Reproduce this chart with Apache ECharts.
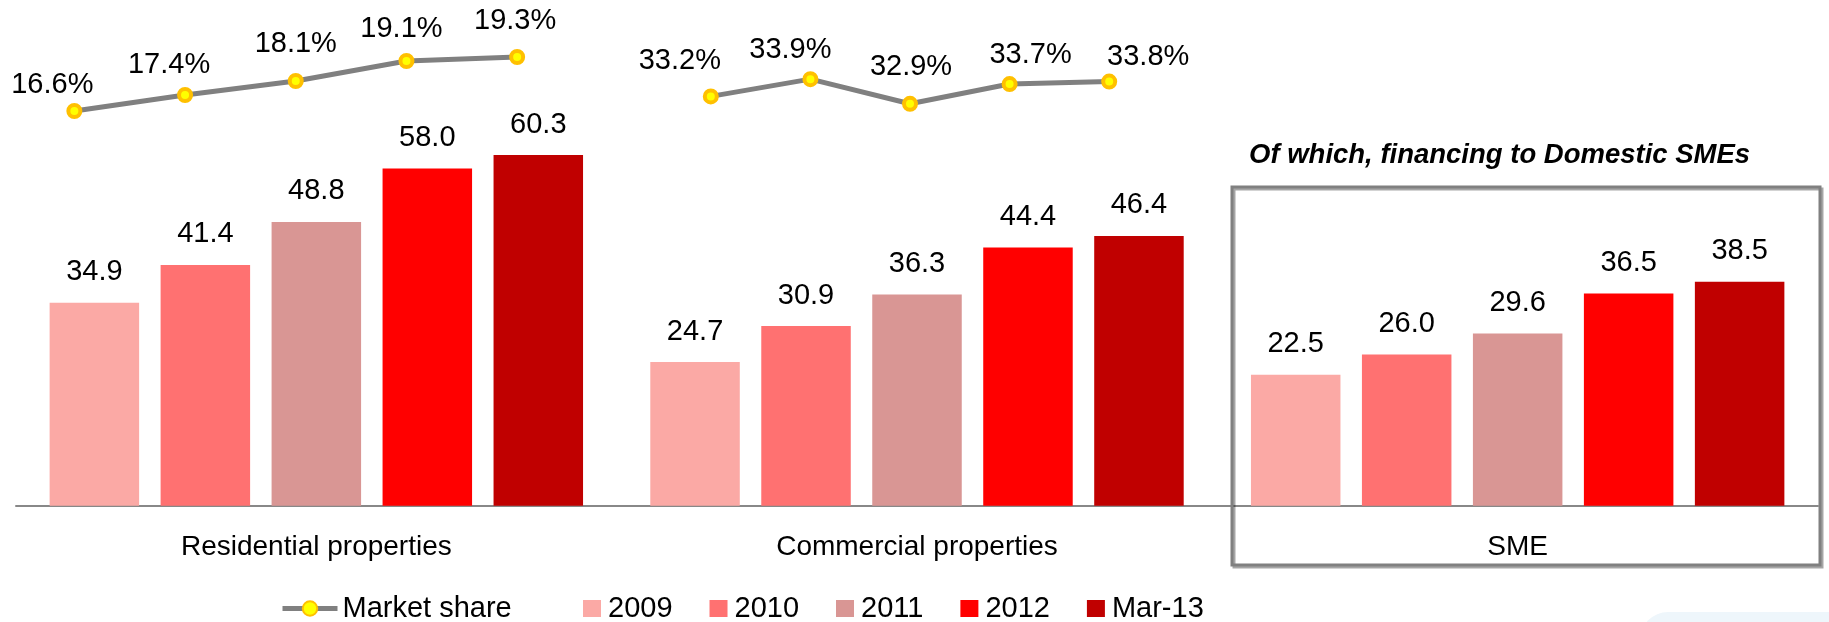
<!DOCTYPE html>
<html>
<head>
<meta charset="utf-8">
<script src="https://cdn.jsdelivr.net/npm/echarts@6/dist/echarts.min.js"></script>
<style>
  html, body { margin: 0; padding: 0; background: #fff; }
  #chart { width: 1829px; height: 622px; }
</style>
</head>
<body>
<div id="chart"></div>
<script>
  // data
  const categories = ['Residential properties', 'Commercial properties', 'SME'];
  const years = ['2009', '2010', '2011', '2012', 'Mar-13'];
  const val2009 = [34.9, 24.7, 22.5];
  const val2010 = [41.4, 30.9, 26.0];
  const val2011 = [48.8, 36.3, 29.6];
  const val2012 = [58.0, 44.4, 36.5];
  const valMar13 = [60.3, 46.4, 38.5];
  const shareResidential = [16.6, 17.4, 18.1, 19.1, 19.3];
  const shareCommercial = [33.2, 33.9, 32.9, 33.7, 33.8];
  const boxTitle = 'Of which, financing to Domestic SMEs';

  const FONT = 'Liberation Sans, Arial, sans-serif';
  const barColors = ['#FBA9A5', '#FF7171', '#D99694', '#FF0000', '#C00000'];
  const barValues = [val2009, val2010, val2011, val2012, valMar13];

  // hand placed % labels, like in the original slide
  const resLabelShift = [[-22, -26], [-16, -30], [0, -37], [-5, -32], [-2, -36]];
  const comLabelShift = [[-31, -35], [-20, -29], [1, -37], [21, -29], [39, -25]];

  function shareData(values, shifts) {
    return values.map(function (v, i) {
      return { value: v, label: { offset: shifts[i] } };
    });
  }

  const chart = echarts.init(document.getElementById('chart'));

  const barSeries = years.map(function (y, i) {
    return {
      name: y,
      type: 'bar',
      xAxisIndex: 0,
      yAxisIndex: 0,
      data: barValues[i],
      barWidth: 89.5,
      barGap: '24%',
      itemStyle: { color: barColors[i] },
      label: {
        show: true,
        position: 'top',
        distance: 16,
        fontFamily: FONT,
        fontSize: 29,
        color: '#000',
        formatter: function (p) { return p.value.toFixed(1); }
      },
      emphasis: { disabled: true }
    };
  });

  function lineSeries(idx, values, shifts) {
    return {
      name: 'Market share',
      type: 'line',
      xAxisIndex: idx,
      yAxisIndex: idx,
      data: shareData(values, shifts),
      symbol: 'circle',
      symbolSize: 12,
      lineStyle: { color: '#808080', width: 5 },
      itemStyle: { color: '#FFFF00', borderColor: '#FFC000', borderWidth: 4 },
      label: {
        show: true,
        position: 'inside',
        fontFamily: FONT,
        fontSize: 29,
        color: '#000',
        formatter: function (p) { return p.value.toFixed(1) + '%'; }
      },
      emphasis: { disabled: true },
      z: 5
    };
  }

  const option = {
    animation: false,
    backgroundColor: '#fff',
    grid: [
      { left: 16, right: 11, top: 40.5, bottom: 116.3, outerBoundsMode: 'none' },
      { left: 19, width: 553.5, top: 43, height: 120, outerBoundsMode: 'none' },
      { left: 661, width: 498, top: 52, height: 74, outerBoundsMode: 'none' }
    ],
    xAxis: [
      {
        type: 'category',
        gridIndex: 0,
        data: categories,
        axisLine: { lineStyle: { color: '#888888', width: 2 } },
        axisTick: { show: false },
        axisLabel: { fontFamily: FONT, fontSize: 28, color: '#000', margin: 28, interval: 0 }
      },
      { type: 'category', gridIndex: 1, data: years, show: false },
      { type: 'category', gridIndex: 2, data: years, show: false }
    ],
    yAxis: [
      { type: 'value', gridIndex: 0, min: 0, max: 80, show: false },
      { type: 'value', gridIndex: 1, min: 14, max: 20, show: false },
      { type: 'value', gridIndex: 2, min: 32, max: 35, show: false }
    ],
    legend: [
      {
        data: ['Market share'],
        left: 280,
        top: 594,
        padding: 0,
        itemWidth: 55,
        itemHeight: 18,
        lineStyle: { width: 5, color: '#808080' },
        textStyle: { fontFamily: FONT, fontSize: 29, color: '#000' },
        selectedMode: false
      },
      {
        data: years,
        left: 583,
        top: 594,
        padding: 0,
        icon: 'rect',
        itemWidth: 18,
        itemHeight: 17,
        itemGap: 37,
        textStyle: { fontFamily: FONT, fontSize: 29, color: '#000', padding: [0, 0, 0, 2] },
        selectedMode: false
      }
    ],
    graphic: [
      {
        type: 'rect',
        z: -10,
        shape: { x: 1640, y: 612, width: 260, height: 80, r: 28 },
        style: { fill: '#EEF6FB' }
      },
      {
        type: 'rect',
        z: 1,
        shape: { x: 1232, y: 187, width: 588, height: 378 },
        style: {
          fill: 'none', stroke: '#808080', lineWidth: 3,
          shadowColor: 'rgba(0,0,0,0.35)', shadowOffsetX: 2, shadowOffsetY: 2
        }
      },
      {
        type: 'text',
        z: 10,
        x: 1249,
        y: 155,
        style: {
          text: boxTitle,
          fontFamily: FONT,
          fontSize: 27.5,
          fontWeight: 'bold',
          fontStyle: 'italic',
          fill: '#000',
          verticalAlign: 'middle'
        }
      }
    ],
    series: barSeries.concat([
      lineSeries(1, shareResidential, resLabelShift),
      lineSeries(2, shareCommercial, comLabelShift)
    ])
  };

  chart.setOption(option);
</script>
</body>
</html>
